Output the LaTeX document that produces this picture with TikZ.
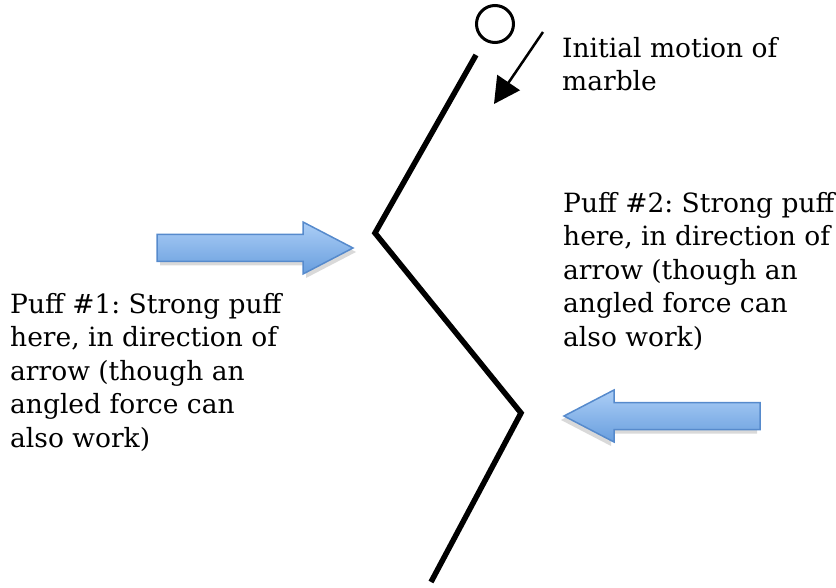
\documentclass[tikz,border=0pt]{standalone}
\usepackage{fontspec}
\setmainfont{DejaVu Serif}
\frenchspacing
\usetikzlibrary{arrows.meta}
\definecolor{puffTop}{RGB}{172,206,246}
\definecolor{puffBottom}{RGB}{104,158,222}
\definecolor{puffEdge}{RGB}{86,138,204}

\tikzset{
  puffarrow/.pic = {
    \fill [black, opacity=0.15] (3,-9.5) -- (149,-9.5) -- (149,-22) -- (199,4) -- (149,30) -- (149,17.5) -- (3,17.5) -- cycle;
    \draw [puffEdge, line width=1.5pt, line join=miter, top color=puffTop, bottom color=puffBottom]
      (0,-13.5) -- (146,-13.5) -- (146,-26) -- (196,0) -- (146,26) -- (146,13.5) -- (0,13.5) -- cycle;
  },
  note/.style = {anchor=north west, inner sep=0pt, align=left, font=\fontsize{26.5}{33.5}\selectfont},
}

\begin{document}
\begin{tikzpicture}[x=1pt, y=-1pt]
    \useasboundingbox (0,0) rectangle (836,588);

    \coordinate (rampTop) at (476,55);
    \coordinate (bendL) at (375,233);
    \coordinate (bendR) at (521,413);
    \coordinate (rampBottom) at (431,582);
    \draw [line width=5.5pt] (rampTop) -- (bendL) -- (bendR) -- (rampBottom);

    \node [circle, draw, line width=3pt, minimum size=37pt, inner sep=0pt] (marble) at (495,24) {};
    \coordinate (motionStart) at (543,32);
    \coordinate (motionEnd) at (494,104);
    \draw [line width=2.5pt, -{Triangle[length=26pt,width=27pt]}] (motionStart) -- (motionEnd);
    \node [note] (motion) at (562,37) {Initial motion of\\marble};

    \pic (puffOne) at (157,248) {puffarrow};
    \pic (puffTwo) [xscale=-1] at (760,416) {puffarrow};

    \node [note] (puffOneText) at (10,293) {Puff \#1: Strong puff\\here, in direction of\\arrow (though an\\angled force can\\also work)};
    \node [note] (puffTwoText) at (563,192) {Puff \#2: Strong puff\\here, in direction of\\arrow (though an\\angled force can\\also work)};
\end{tikzpicture}
\end{document}
